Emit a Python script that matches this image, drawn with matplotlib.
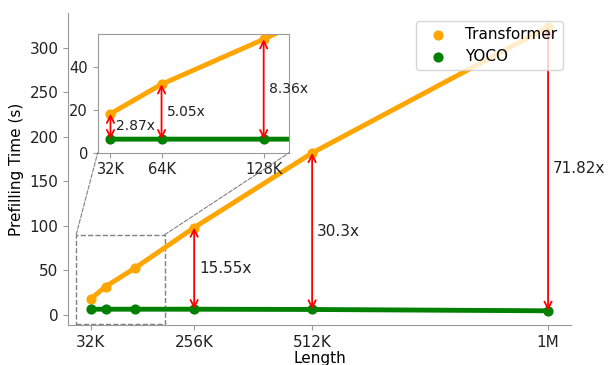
import matplotlib
matplotlib.use('Agg')
import matplotlib.pyplot as plt
from matplotlib.patches import Rectangle, ConnectionPatch

# sequence length in K tokens
lengths = [32, 64, 128, 256, 512, 1024]
tick_labels = ['32K', '256K', '512K', '1M']
tick_pos = [32, 256, 512, 1024]
transformer = [18.1, 31.8, 52.7, 98.0, 181.8, 323.2]
yoco = [6.3, 6.3, 6.3, 6.3, 6.0, 4.5]
speedup = ['2.87x', '5.05x', '8.36x', '15.55x', '30.3x', '71.82x']

c_tr = 'orange'
c_yo = 'green'

fig = plt.figure(figsize=(6.08, 3.65), dpi=100)
ax = fig.add_axes([0.112, 0.1096, 0.827, 0.855])


def style(a, size, box=False):
    for s in ['top', 'right']:
        a.spines[s].set_visible(box)
    for s in a.spines.values():
        s.set_color('#999999')
    a.tick_params(colors='#999999', labelcolor='#222222', labelsize=size)


def draw_lines(a):
    a.plot(lengths, transformer, color=c_tr, lw=3.5, zorder=2)
    a.plot(lengths, yoco, color=c_yo, lw=3.5, zorder=2)
    a.scatter(lengths, transformer, color=c_tr, s=40, zorder=3, label='Transformer')
    a.scatter(lengths, yoco, color=c_yo, s=40, zorder=3, label='YOCO')


def draw_arrow(a, i, dx, size):
    a.annotate('', xy=(lengths[i], transformer[i]), xytext=(lengths[i], yoco[i]),
               arrowprops=dict(arrowstyle='<->', color='red', lw=1.3,
                               shrinkA=0, shrinkB=0, mutation_scale=13), zorder=4)
    a.text(lengths[i] + dx, (transformer[i] + yoco[i]) / 2, speedup[i],
           fontsize=size, va='center', ha='left', color='#222222')


draw_lines(ax)
for i in [3, 4, 5]:
    draw_arrow(ax, i, 11, 11)
ax.set_xticks(tick_pos)
ax.set_xticklabels(tick_labels)
ax.set_yticks([0, 50, 100, 150, 200, 250, 300])
ax.set_xlabel('Length', fontsize=11, labelpad=1)
ax.set_ylabel('Prefilling Time (s)', fontsize=11)
style(ax, 11)
ax.legend(loc='upper right', fontsize=11)

# zoomed view of the short lengths
axins = fig.add_axes([0.1607, 0.5816, 0.315, 0.3244])
draw_lines(axins)
for i in [0, 1, 2]:
    draw_arrow(axins, i, 3.5, 10)
axins.set_xlim(24, 144)
axins.set_ylim(0, 55)
axins.set_xticks([32, 64, 128])
axins.set_xticklabels(['32K', '64K', '128K'])
axins.set_yticks([0, 20, 40])
style(axins, 10.5, box=True)

ax.add_patch(Rectangle((0, -10), 192, 100, fill=False, ls='--',
                       ec='gray', lw=1, zorder=1))
for xa, xb in [(0, 0), (192, 1)]:
    con = ConnectionPatch(xyA=(xa, 90), coordsA=ax.transData,
                          xyB=(xb, 0), coordsB=axins.transAxes,
                          ls='--', color='gray', lw=0.8)
    fig.add_artist(con)

plt.savefig('out.png', dpi=100)
plt.close()
